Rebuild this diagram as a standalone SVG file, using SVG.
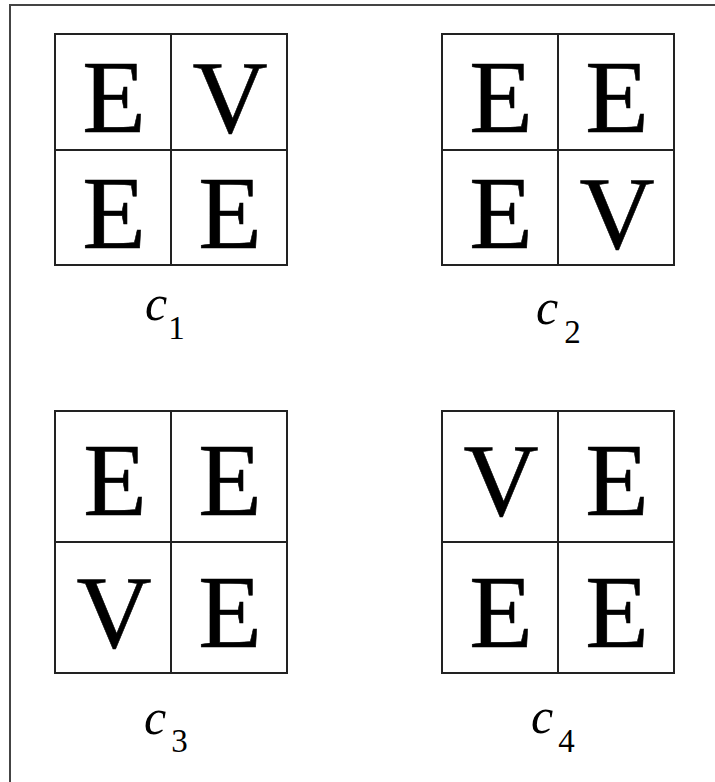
<svg xmlns="http://www.w3.org/2000/svg" width="715" height="782" viewBox="0 0 715 782">
<style>
.frame{fill:none;stroke:#444;stroke-width:2}
.grid{fill:none;stroke:#222;stroke-width:2}
.big{font-family:"Liberation Serif","Times New Roman",serif;font-size:104px;fill:#000;stroke:#000;stroke-width:0.6;text-anchor:middle}
.lbl{font-family:"Liberation Serif","Times New Roman",serif;font-style:italic;font-size:50px;fill:#000}
.sub{font-family:"Liberation Serif","Times New Roman",serif;font-size:33px;fill:#000}
</style>
<rect width="715" height="782" fill="#fff"/>
<rect class="frame" x="10" y="5" width="720" height="790"/>
<g id="c1">
<rect class="grid" x="55" y="34" width="232" height="231"/>
<line class="grid" x1="171" y1="34" x2="171" y2="265"/>
<line class="grid" x1="55" y1="150" x2="287" y2="150"/>
<text class="big" x="114" y="132">E</text>
<text class="big" x="230" y="132">V</text>
<text class="big" x="114" y="248">E</text>
<text class="big" x="230" y="248">E</text>
<text x="145" y="320"><tspan class="lbl">c</tspan><tspan class="sub" dx="1" dy="19">1</tspan></text>
</g>
<g id="c2">
<rect class="grid" x="442" y="34" width="232" height="231"/>
<line class="grid" x1="558" y1="34" x2="558" y2="265"/>
<line class="grid" x1="442" y1="150" x2="674" y2="150"/>
<text class="big" x="501" y="132">E</text>
<text class="big" x="617" y="132">E</text>
<text class="big" x="501" y="248">E</text>
<text class="big" x="617" y="248">V</text>
<text x="536" y="324"><tspan class="lbl">c</tspan><tspan class="sub" dx="6" dy="19">2</tspan></text>
</g>
<g id="c3">
<rect class="grid" x="55" y="411" width="232" height="262"/>
<line class="grid" x1="171" y1="411" x2="171" y2="673"/>
<line class="grid" x1="55" y1="542" x2="287" y2="542"/>
<text class="big" x="115" y="515">E</text>
<text class="big" x="230" y="515">E</text>
<text class="big" x="114" y="647">V</text>
<text class="big" x="230" y="647">E</text>
<text x="144" y="734"><tspan class="lbl">c</tspan><tspan class="sub" dx="5" dy="18">3</tspan></text>
</g>
<g id="c4">
<rect class="grid" x="442" y="411" width="232" height="262"/>
<line class="grid" x1="558" y1="411" x2="558" y2="673"/>
<line class="grid" x1="442" y1="542" x2="674" y2="542"/>
<text class="big" x="501" y="515">V</text>
<text class="big" x="617" y="515">E</text>
<text class="big" x="501" y="647">E</text>
<text class="big" x="617" y="647">E</text>
<text x="531" y="733"><tspan class="lbl">c</tspan><tspan class="sub" dx="5" dy="19">4</tspan></text>
</g>
</svg>
